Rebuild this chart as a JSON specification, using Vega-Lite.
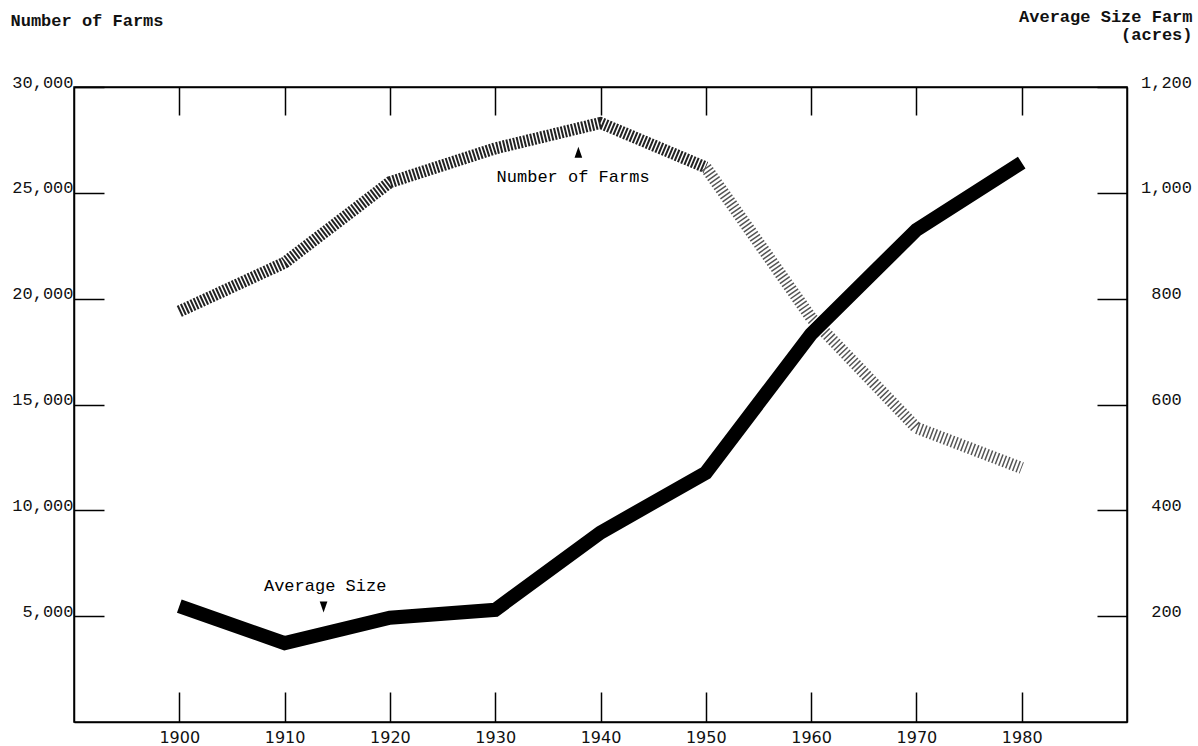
{
  "$schema": "https://vega.github.io/schema/vega-lite/v6.json",
  "width": 1053,
  "height": 635,
  "autosize": {"type": "none"},
  "padding": {"left": 74, "top": 87, "right": 71, "bottom": 24},
  "background": "white",
  "datasets": {
    "farms": [
      {"year": 1900, "farms": 19400},
      {"year": 1910, "farms": 21700},
      {"year": 1920, "farms": 25500},
      {"year": 1930, "farms": 27100},
      {"year": 1940, "farms": 28300},
      {"year": 1950, "farms": 26200},
      {"year": 1960, "farms": 19100},
      {"year": 1970, "farms": 13900},
      {"year": 1980, "farms": 12000}
    ],
    "avg": [
      {"year": 1900, "acres": 219},
      {"year": 1910, "acres": 149},
      {"year": 1920, "acres": 197},
      {"year": 1930, "acres": 212},
      {"year": 1940, "acres": 358},
      {"year": 1950, "acres": 471},
      {"year": 1960, "acres": 733},
      {"year": 1970, "acres": 930},
      {"year": 1980, "acres": 1057}
    ],
    "labels": [
      {"year": 1937.4, "farms": 25740, "text": "Number of Farms"},
      {"year": 1913.85, "farms": 6420, "text": "Average Size"}
    ],
    "arrows": [
      {"year": 1937.9, "farms": 26920, "dir": "up"},
      {"year": 1913.7, "farms": 5430, "dir": "down"}
    ]
  },
  "layer": [
    {
      "data": {"name": "farms"},
      "transform": [{"filter": "datum.year <= 1950"}],
      "mark": {"type": "line", "color": "#222222", "strokeWidth": 12, "strokeDash": [2, 1.5], "strokeCap": "butt"},
      "encoding": {
        "x": {
          "field": "year", "type": "quantitative",
          "scale": {"domain": [1890, 1990], "nice": false, "zero": false},
          "axis": {
            "orient": "bottom", "title": null, "format": "d",
            "values": [1900, 1910, 1920, 1930, 1940, 1950, 1960, 1970, 1980],
            "tickSize": -30, "labelPadding": 37, "labelBaseline": "top",
            "labelFont": "DejaVu Sans", "labelFontSize": 16, "grid": false
          }
        },
        "y": {
          "field": "farms", "type": "quantitative",
          "scale": {"domain": [0, 30000], "nice": false, "zero": true},
          "axis": {
            "orient": "left", "format": ",.0f",
            "values": [5000, 10000, 15000, 20000, 25000, 30000],
            "tickSize": -30, "labelPadding": 31, "labelBaseline": "alphabetic",
            "labelFont": "Liberation Mono", "labelFontSize": 17, "grid": false,
            "title": "Number of Farms", "titleAngle": 0, "titleAlign": "left",
            "titleBaseline": "alphabetic", "titleX": -64, "titleY": -62,
            "titleFont": "Liberation Mono", "titleFontSize": 17, "titleFontWeight": "bold"
          }
        }
      }
    },
    {
      "data": {"name": "farms"},
      "transform": [{"filter": "datum.year >= 1950"}],
      "mark": {"type": "line", "color": "#555555", "strokeWidth": 12, "strokeDash": [1.5, 2.2], "strokeCap": "butt"},
      "encoding": {
        "x": {"field": "year", "type": "quantitative", "axis": null},
        "y": {"field": "farms", "type": "quantitative", "scale": {"domain": [0, 30000], "nice": false, "zero": true}, "axis": null}
      }
    },
    {
      "data": {"name": "labels"},
      "mark": {"type": "text", "font": "Liberation Mono", "fontSize": 17, "color": "#000", "align": "center", "baseline": "middle"},
      "encoding": {
        "x": {"field": "year", "type": "quantitative", "axis": null},
        "y": {"field": "farms", "type": "quantitative", "scale": {"domain": [0, 30000], "nice": false, "zero": true}, "axis": null},
        "text": {"field": "text"}
      }
    },
    {
      "data": {"name": "arrows"},
      "transform": [{"filter": "datum.dir == 'up'"}],
      "mark": {"type": "point", "shape": "M-0.35,0.5L0,-0.5L0.35,0.5Z", "filled": true, "color": "#000", "size": 480, "opacity": 1},
      "encoding": {
        "x": {"field": "year", "type": "quantitative", "axis": null},
        "y": {"field": "farms", "type": "quantitative", "scale": {"domain": [0, 30000], "nice": false, "zero": true}, "axis": null}
      }
    },
    {
      "data": {"name": "arrows"},
      "transform": [{"filter": "datum.dir == 'down'"}],
      "mark": {"type": "point", "shape": "M-0.35,-0.5L0,0.5L0.35,-0.5Z", "filled": true, "color": "#000", "size": 480, "opacity": 1},
      "encoding": {
        "x": {"field": "year", "type": "quantitative", "axis": null},
        "y": {"field": "farms", "type": "quantitative", "scale": {"domain": [0, 30000], "nice": false, "zero": true}, "axis": null}
      }
    },
    {
      "data": {"name": "avg"},
      "mark": {"type": "line", "color": "#000", "strokeWidth": 14},
      "encoding": {
        "x": {
          "field": "year", "type": "quantitative",
          "axis": {
            "orient": "top", "title": null, "labels": false,
            "values": [1900, 1910, 1920, 1930, 1940, 1950, 1960, 1970, 1980],
            "tickSize": -28, "grid": false
          }
        },
        "y": {
          "field": "acres", "type": "quantitative",
          "scale": {"domain": [0, 1200], "nice": false, "zero": true},
          "axis": {
            "orient": "right", "format": ",.0f",
            "values": [200, 400, 600, 800, 1000, 1200],
            "tickSize": -30, "labelPadding": 69, "labelAlign": "center", "labelBaseline": "alphabetic",
            "labelFont": "Liberation Mono", "labelFontSize": 17, "grid": false,
            "title": ["Average Size Farm", "(acres)"], "titleAngle": 0, "titleAlign": "right",
            "titleBaseline": "alphabetic", "titleX": 65, "titleY": -66, "titleLineHeight": 18,
            "titleFont": "Liberation Mono", "titleFontSize": 17, "titleFontWeight": "bold"
          }
        }
      }
    }
  ],
  "resolve": {"scale": {"y": "independent"}, "axis": {"x": "independent", "y": "independent"}},
  "config": {
    "view": {"stroke": "#000", "strokeWidth": 1.5},
    "axis": {"domainColor": "#000", "domainWidth": 1.5, "tickColor": "#000", "tickWidth": 1.5, "labelColor": "#111", "titleColor": "#111"}
  }
}
